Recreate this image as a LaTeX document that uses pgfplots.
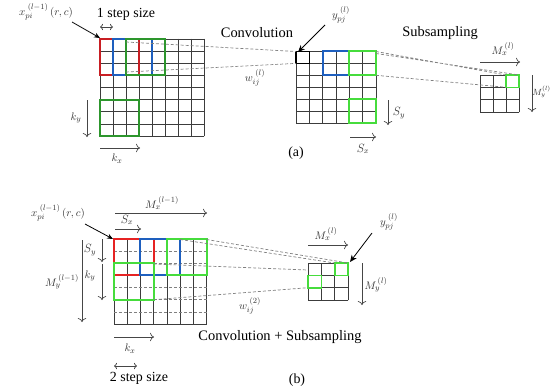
\documentclass[border=0pt]{standalone}
\usepackage{fontspec}
\setmainfont{Liberation Serif}
\usepackage{pgfplots}
\pgfplotsset{compat=1.18}
\usetikzlibrary{arrows.meta}
\definecolor{redA}{RGB}{200,30,35}
\definecolor{blueA}{RGB}{30,95,190}
\definecolor{greenA}{RGB}{45,150,45}
\definecolor{limeB}{RGB}{70,220,60}
\definecolor{redB}{RGB}{230,35,35}
\definecolor{gridc}{RGB}{60,60,60}
\definecolor{arrc}{RGB}{70,70,70}
\begin{document}
\begin{tikzpicture}
\begin{axis}[
  scale only axis, width=552bp, height=389bp,
  xmin=0, xmax=552, ymin=0, ymax=389, y dir=reverse,
  axis lines=none, clip=false, enlargelimits=false,
  no marks, unbounded coords=jump,
  every axis plot/.append style={line cap=rect},
  kern/.style={line width=2bp, line join=miter},
]
% ---------- (a) input grid 8x8 ----------
\addplot[gridc, line width=0.7bp] coordinates {
(100,39)(100,136)(nan,nan)(113,39)(113,136)(nan,nan)(126,39)(126,136)(nan,nan)
(139,39)(139,136)(nan,nan)(152,39)(152,136)(nan,nan)(165,39)(165,136)(nan,nan)
(178,39)(178,136)(nan,nan)(191,39)(191,136)(nan,nan)(204,39)(204,136)(nan,nan)
(100,39)(204,39)(nan,nan)(100,51.1)(204,51.1)(nan,nan)(100,63.3)(204,63.3)(nan,nan)
(100,75.4)(204,75.4)(nan,nan)(100,87.5)(204,87.5)(nan,nan)(100,99.6)(204,99.6)(nan,nan)
(100,111.8)(204,111.8)(nan,nan)(100,123.9)(204,123.9)(nan,nan)(100,136)(204,136)
};
\addplot[redA, kern] coordinates {(100,39)(139,39)(139,75.4)(100,75.4)(100,39)};
\addplot[blueA, kern] coordinates {(113,39)(152,39)(152,75.4)(113,75.4)(113,39)};
\addplot[greenA, kern] coordinates {(126,39)(165,39)(165,75.4)(126,75.4)(126,39)};
\addplot[greenA, kern] coordinates {(100,99.6)(139,99.6)(139,136)(100,136)(100,99.6)};
% ---------- (a) convolution output 6x6 ----------
\addplot[gridc, line width=0.7bp] coordinates {
(296,51.5)(296,123)(nan,nan)(309.3,51.5)(309.3,123)(nan,nan)(322.7,51.5)(322.7,123)(nan,nan)
(336,51.5)(336,123)(nan,nan)(349.3,51.5)(349.3,123)(nan,nan)(362.7,51.5)(362.7,123)(nan,nan)
(376,51.5)(376,123)(nan,nan)
(296,51.5)(376,51.5)(nan,nan)(296,63.4)(376,63.4)(nan,nan)(296,75.3)(376,75.3)(nan,nan)
(296,87.3)(376,87.3)(nan,nan)(296,99.2)(376,99.2)(nan,nan)(296,111.1)(376,111.1)(nan,nan)
(296,123)(376,123)
};
\addplot[black, line width=1.6bp] coordinates {(296,51.5)(309.3,51.5)(309.3,63.4)(296,63.4)(296,51.5)};
\addplot[blueA, kern] coordinates {(322.7,51.5)(349.3,51.5)(349.3,75.3)(322.7,75.3)(322.7,51.5)};
\addplot[limeB, kern] coordinates {(349.3,51.5)(376,51.5)(376,75.3)(349.3,75.3)(349.3,51.5)};
\addplot[limeB, kern] coordinates {(349.3,99.2)(376,99.2)(376,123)(349.3,123)(349.3,99.2)};
% ---------- (a) subsampling output 3x3 ----------
\addplot[gridc, line width=0.7bp] coordinates {
(480,75)(480,112)(nan,nan)(493,75)(493,112)(nan,nan)(506,75)(506,112)(nan,nan)(519,75)(519,112)(nan,nan)
(480,75)(519,75)(nan,nan)(480,87.3)(519,87.3)(nan,nan)(480,99.7)(519,99.7)(nan,nan)(480,112)(519,112)
};
\addplot[limeB, line width=1.6bp] coordinates {(506,75)(519,75)(519,87.3)(506,87.3)(506,75)};
% ---------- (a) dashed connectors ----------
\addplot[gray, densely dashed, line width=0.7bp, line cap=butt] coordinates {
(126,42)(296,51.5)(nan,nan)(126,72)(296,63.4)(nan,nan)
(376,51.5)(506,75)(nan,nan)(376,53.5)(519,75)(nan,nan)(376,75.3)(506,87.3)
};
% ---------- (a) arrows ----------
\addplot[black, line width=0.8bp, -{Stealth[length=6pt,width=5pt]}, line cap=butt] coordinates {(72,22)(100,38)};
\addplot[arrc, line width=0.7bp, {To[length=3pt]}-{To[length=3pt]}, line cap=butt] coordinates {(100,27)(113,27)};
\addplot[arrc, line width=0.7bp, -{To[length=4pt]}, line cap=butt] coordinates {(87,100)(87,137)};
\addplot[arrc, line width=0.7bp, -{To[length=4pt]}, line cap=butt] coordinates {(100,148)(140,148)};
\addplot[black, line width=0.8bp, -{Stealth[length=7pt,width=6pt]}, line cap=butt] coordinates {(325,25)(298,52)};
\addplot[arrc, line width=0.7bp, -{To[length=4pt]}, line cap=butt] coordinates {(388,100)(388,125)};
\addplot[arrc, line width=0.7bp, -{To[length=4pt]}, line cap=butt] coordinates {(350,137)(376,137)};
\addplot[arrc, line width=0.7bp, -{To[length=4pt]}, line cap=butt] coordinates {(480,62)(520,62)};
\addplot[arrc, line width=0.7bp, -{To[length=4pt]}, line cap=butt] coordinates {(532,75)(532,112)};
% ---------- (a) text ----------
\node[font=\fontsize{14}{16}\selectfont] at (axis cs:126,14) {1 step size};
\node[font=\fontsize{11}{12}\selectfont, text=black!80] at (axis cs:46,12) {$x_{pi}^{\;(l-1)}\,(r,c)$};
\node[font=\fontsize{14.5}{16}\selectfont] at (axis cs:257,33) {Convolution};
\node[font=\fontsize{11}{12}\selectfont, text=black!80] at (axis cs:341,15) {$y_{pj}^{\;(l)}$};
\node[font=\fontsize{11}{12}\selectfont, text=black!80] at (axis cs:255,78) {$w_{ij}^{\;(l)}$};
\node[font=\fontsize{14.5}{16}\selectfont] at (axis cs:440,33) {Subsampling};
\node[font=\fontsize{11}{12}\selectfont, text=black!80] at (axis cs:76,118) {$k_y$};
\node[font=\fontsize{11}{12}\selectfont, text=black!80] at (axis cs:117,159) {$k_x$};
\node[font=\fontsize{12}{12}\selectfont, text=black!80] at (axis cs:399,113) {$S_y$};
\node[font=\fontsize{12}{12}\selectfont, text=black!80] at (axis cs:363,149) {$S_x$};
\node[font=\fontsize{11}{12}\selectfont, text=black!80] at (axis cs:503,49) {$M_x^{\,(l)}$};
\node[font=\fontsize{9}{10}\selectfont, text=black!80, anchor=east, inner xsep=0.5pt] at (axis cs:551.5,92) {$M_y^{(l)}$};
\node[font=\fontsize{14}{16}\selectfont] at (axis cs:296,153) {(a)};
% ---------- (b) input grid 7x7 ----------
\addplot[gridc, line width=0.7bp] coordinates {
(114,239)(114,324)(nan,nan)(127.2,239)(127.2,324)(nan,nan)(140.4,239)(140.4,324)(nan,nan)
(153.6,239)(153.6,324)(nan,nan)(166.9,239)(166.9,324)(nan,nan)(180.1,239)(180.1,324)(nan,nan)
(193.3,239)(193.3,324)(nan,nan)(206.5,239)(206.5,324)(nan,nan)
(114,239)(206.5,239)(nan,nan)(114,324)(206.5,324)
};
\addplot[gray, densely dashed, line width=0.7bp, line cap=butt] coordinates {
(114,251.1)(206.5,251.1)(nan,nan)(114,263.3)(206.5,263.3)(nan,nan)(114,275.4)(206.5,275.4)(nan,nan)
(114,287.6)(206.5,287.6)(nan,nan)(114,299.7)(206.5,299.7)(nan,nan)(114,311.9)(206.5,311.9)
};
\addplot[redB, kern] coordinates {(114,239)(153.6,239)(153.6,275.4)(114,275.4)(114,239)};
\addplot[blueA, kern] coordinates {(140.4,239)(180.1,239)(180.1,275.4)(140.4,275.4)(140.4,239)};
\addplot[limeB, kern] coordinates {(166.9,239)(206.5,239)(206.5,275.4)(166.9,275.4)(166.9,239)};
\addplot[limeB, kern] coordinates {(114,263.3)(153.6,263.3)(153.6,299.7)(114,299.7)(114,263.3)};
% ---------- (b) output 3x3 ----------
\addplot[gridc, line width=0.7bp] coordinates {
(308,263)(308,300)(nan,nan)(321.3,263)(321.3,300)(nan,nan)(334.7,263)(334.7,300)(nan,nan)(348,263)(348,300)(nan,nan)
(308,263)(348,263)(nan,nan)(308,275.3)(348,275.3)(nan,nan)(308,287.7)(348,287.7)(nan,nan)(308,300)(348,300)
};
\addplot[limeB, line width=1.6bp] coordinates {(334.7,263)(348,263)(348,275.3)(334.7,275.3)(334.7,263)};
\addplot[limeB, line width=1.6bp] coordinates {(308,275.3)(321.3,275.3)(321.3,287.7)(308,287.7)(308,275.3)};
% ---------- (b) dashed connectors ----------
\addplot[gray, densely dashed, line width=0.7bp, line cap=butt] coordinates {
(180.1,239.5)(334.7,263)(nan,nan)(206.5,239.5)(348,263)(nan,nan)
(153.6,264)(308,270)(nan,nan)(153.6,299.7)(308,287.7)
};
% ---------- (b) arrows ----------
\addplot[black, line width=0.8bp, -{Stealth[length=6pt,width=5pt]}, line cap=butt] coordinates {(85,224)(113,239)};
\addplot[arrc, line width=0.7bp, -{To[length=4pt]}, line cap=butt] coordinates {(115,213)(207,213)};
\addplot[arrc, line width=0.7bp, -{To[length=4pt]}, line cap=butt] coordinates {(115,229)(141,229)};
\addplot[arrc, line width=0.7bp, -{To[length=4pt]}, line cap=butt] coordinates {(102,239)(102,262)};
\addplot[arrc, line width=0.7bp, -{To[length=4pt]}, line cap=butt] coordinates {(102,264)(102,300)};
\addplot[arrc, line width=0.7bp, -{To[length=4pt]}, line cap=butt] coordinates {(82,240)(82,322)};
\addplot[arrc, line width=0.7bp, -{To[length=4pt]}, line cap=butt] coordinates {(114,337)(154,337)};
\addplot[arrc, line width=0.7bp, {To[length=3pt]}-{To[length=3pt]}, line cap=butt] coordinates {(114,366)(137,366)};
\addplot[black, line width=0.8bp, -{Stealth[length=7pt,width=6pt]}, line cap=butt] coordinates {(372,233)(350,262)};
\addplot[arrc, line width=0.7bp, -{To[length=4pt]}, line cap=butt] coordinates {(308,245)(348,245)};
\addplot[arrc, line width=0.7bp, -{To[length=4pt]}, line cap=butt] coordinates {(362,263)(362,305)};
% ---------- (b) text ----------
\node[font=\fontsize{11}{12}\selectfont, text=black!80] at (axis cs:58,213) {$x_{pi}^{\;(l-1)}\,(r,c)$};
\node[font=\fontsize{11}{12}\selectfont, text=black!80] at (axis cs:162,203) {$M_x^{\,(l-1)}$};
\node[font=\fontsize{12}{12}\selectfont, text=black!80] at (axis cs:127,220) {$S_x$};
\node[font=\fontsize{12}{12}\selectfont, text=black!80] at (axis cs:90,250) {$S_y$};
\node[font=\fontsize{11}{12}\selectfont, text=black!80] at (axis cs:90,276) {$k_y$};
\node[font=\fontsize{11}{12}\selectfont, text=black!80] at (axis cs:62,282) {$M_y^{\,(l-1)}$};
\node[font=\fontsize{11}{12}\selectfont, text=black!80] at (axis cs:130,349) {$k_x$};
\node[font=\fontsize{14}{16}\selectfont] at (axis cs:139,378) {2 step size};
\node[font=\fontsize{14.5}{16}\selectfont] at (axis cs:280,337) {Convolution + Subsampling};
\node[font=\fontsize{11}{12}\selectfont, text=black!80] at (axis cs:250,306) {$w_{ij}^{\;(2)}$};
\node[font=\fontsize{11}{12}\selectfont, text=black!80] at (axis cs:389,222) {$y_{pj}^{\;(l)}$};
\node[font=\fontsize{11}{12}\selectfont, text=black!80] at (axis cs:326,234) {$M_x^{\,(l)}$};
\node[font=\fontsize{11}{12}\selectfont, text=black!80] at (axis cs:376,285) {$M_y^{\,(l)}$};
\node[font=\fontsize{14}{16}\selectfont] at (axis cs:297,380) {(b)};
\end{axis}
\pgfresetboundingbox
\useasboundingbox (current axis.south west) rectangle (current axis.north east);
\end{tikzpicture}
\end{document}
